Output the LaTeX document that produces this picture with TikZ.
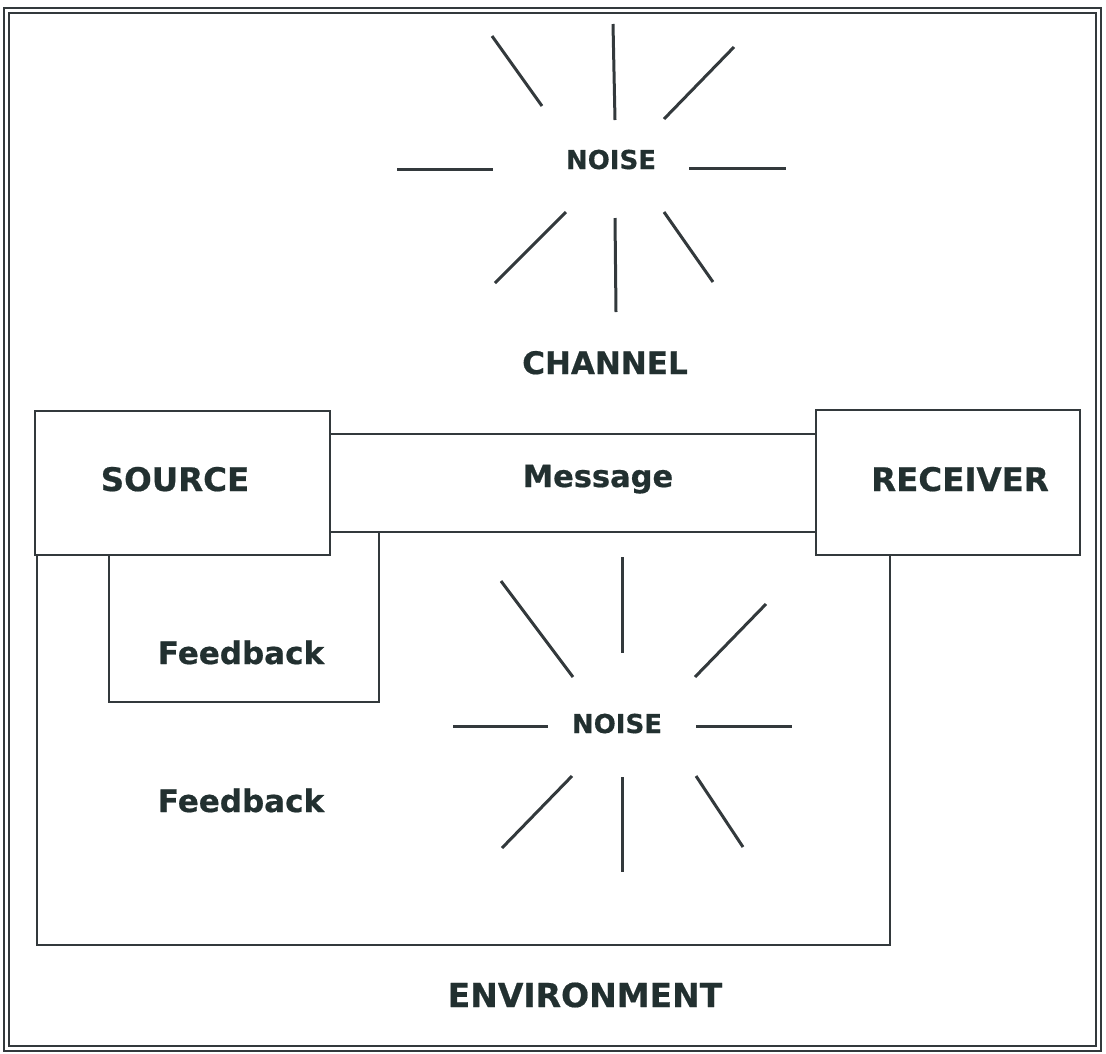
\documentclass[tikz,border=0pt]{standalone}
\usepackage{fontspec}
\setmainfont{DejaVu Sans}
\newfontfamily\heavyfont{DejaVu Sans Bold}[FakeBold=0.6]
\definecolor{txt}{HTML}{223030}
\definecolor{ln}{HTML}{33393C}
\tikzset{
  lbl/.style={text=txt, inner sep=0pt, anchor=base, font=\heavyfont\fontsize{#1}{#1}\selectfont},
  boxline/.style={draw=ln, line width=2pt},
  ray/.style={draw=ln, line width=3pt},
  frameout/.style={draw=ln, line width=2.6pt},
  framein/.style={draw=ln, line width=1.6pt}
}
\begin{document}
\begin{tikzpicture}[x=1pt,y=-1pt]
\useasboundingbox (0,0) rectangle (1106,1053);
% double frame
\draw[frameout] (4,8) rectangle (1101,1051);
\draw[framein] (9,13) rectangle (1096,1046);

% top noise rays
\coordinate (t1a) at (492,36);  \coordinate (t1b) at (542,106);
\coordinate (t2a) at (613,24);  \coordinate (t2b) at (615,120);
\coordinate (t3a) at (734,47);  \coordinate (t3b) at (664,119);
\coordinate (t4a) at (397,169); \coordinate (t4b) at (493,169);
\coordinate (t5a) at (689,168); \coordinate (t5b) at (786,168);
\coordinate (t6a) at (566,212); \coordinate (t6b) at (495,283);
\coordinate (t7a) at (615,218); \coordinate (t7b) at (616,312);
\coordinate (t8a) at (664,212); \coordinate (t8b) at (713,282);
\foreach \i in {1,...,8} {\draw[ray] (t\i a) -- (t\i b);}

% bottom noise rays
\coordinate (b1a) at (501,581); \coordinate (b1b) at (573,677);
\coordinate (b2a) at (622,557); \coordinate (b2b) at (622,653);
\coordinate (b3a) at (766,604); \coordinate (b3b) at (695,677);
\coordinate (b4a) at (453,726); \coordinate (b4b) at (548,726);
\coordinate (b5a) at (696,726); \coordinate (b5b) at (792,726);
\coordinate (b6a) at (572,776); \coordinate (b6b) at (502,848);
\coordinate (b7a) at (622,777); \coordinate (b7b) at (622,872);
\coordinate (b8a) at (696,776); \coordinate (b8b) at (743,847);
\foreach \i in {1,...,8} {\draw[ray] (b\i a) -- (b\i b);}

% boxes
\coordinate (srcNW) at (35,411);  \coordinate (srcSE) at (330,555);
\coordinate (rcvNW) at (816,410); \coordinate (rcvSE) at (1080,555);
\draw[boxline] (srcNW) rectangle (srcSE);
\draw[boxline] (rcvNW) rectangle (rcvSE);
% message channel
\coordinate (m1) at (330,434); \coordinate (m2) at (816,434);
\coordinate (m3) at (330,532); \coordinate (m4) at (816,532);
\draw[boxline] (m1) -- (m2);
\draw[boxline] (m3) -- (m4);
% inner feedback box
\coordinate (f1) at (109,555); \coordinate (f2) at (109,702);
\coordinate (f3) at (379,702); \coordinate (f4) at (379,532);
\draw[boxline] (f1) -- (f2) -- (f3) -- (f4);
% outer feedback loop
\coordinate (g1) at (37,555); \coordinate (g2) at (37,945);
\coordinate (g3) at (890,945); \coordinate (g4) at (890,555);
\draw[boxline] (g1) -- (g2) -- (g3) -- (g4);

% labels
\node[lbl=26] (noise1) at (611,169) {NOISE};
\node[lbl=31] (channel) at (605,374) {CHANNEL};
\node[lbl=32.5] (source) at (175,491) {SOURCE};
\node[lbl=30.5] (message) at (598,487) {Message};
\node[lbl=32.5] (receiver) at (960,491) {RECEIVER};
\node[lbl=31] (fb1) at (241,664) {Feedback};
\node[lbl=26] (noise2) at (617,733) {NOISE};
\node[lbl=31] (fb2) at (241,812) {Feedback};
\node[lbl=33] (env) at (585,1007) {ENVIRONMENT};
\end{tikzpicture}
\end{document}
